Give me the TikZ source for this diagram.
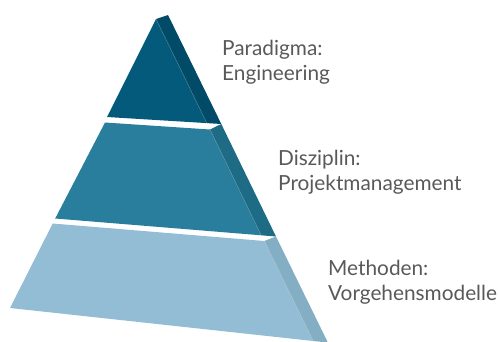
\documentclass[tikz,border=0pt]{standalone}
\usepackage{fontspec}
\setmainfont{Lato}
\definecolor{topfront}{HTML}{045A7B}
\definecolor{topside}{HTML}{024B68}
\definecolor{midfront}{HTML}{287E9C}
\definecolor{midside}{HTML}{1E6B86}
\definecolor{lowfront}{HTML}{93BDD5}
\definecolor{lowside}{HTML}{84AEC3}
\definecolor{labelgrey}{HTML}{595959}
\newcommand{\face}[2] % fill colour, corner list
{
	% solid face, no outline
	\fill[#1] #2 -- cycle;
}
\newcommand{\ridge}[3] % colour, upper end, lower end
{
	% thin light edge between front and side
	\draw[#1!70!white, line width=0.4pt] #2 -- #3;
}
\tikzset{layer label/.style={anchor=base west, inner sep=0pt, align=left,
	text=labelgrey, font=\fontsize{20.8}{25}\selectfont}}

\begin{document}
\begin{tikzpicture}[x=1pt, y=-1pt]
	% 498 x 341, y runs downwards
	\useasboundingbox (0,0) rectangle (498,341);
	
	% bottom tier
	\face{lowfront}{(52.7,223.5) -- (10,308) -- (313.2,341) -- (264.3,241)};
	\face{lowside}{(264.3,241) -- (276,236.5) -- (327.9,342.6) -- (313.2,341)};
	\ridge{lowside}{(264.3,241)}{(313.2,341)};
	
	% middle tier
	\face{midfront}{(105,122.5) -- (55.2,218.5) -- (261.2,235.3) -- (210,129.5)};
	\face{midside}{(210,129.5) -- (221.3,124) -- (276,236.5) -- (261.2,235.3)};
	\ridge{midside}{(210,129.5)}{(261.2,235.3)};
	
	% top tier
	\face{topfront}{(156,19) -- (107,117) -- (206.8,123.1)};
	\face{topside}{(156,19) -- (168,15) -- (221.3,124) -- (206.8,123.1)};
	\ridge{topside}{(156,19)}{(206.8,123.1)};
	
	% labels (base anchor sits on the second line)
	\node[layer label] (paradigma) at (222,80) {Paradigma:\\Engineering};
	\node[layer label] (disziplin) at (278,190) {Disziplin:\\Projektmanagement};
	\node[layer label] (methoden) at (328,300) {Methoden:\\Vorgehensmodelle};
	
\end{tikzpicture}
\end{document}
